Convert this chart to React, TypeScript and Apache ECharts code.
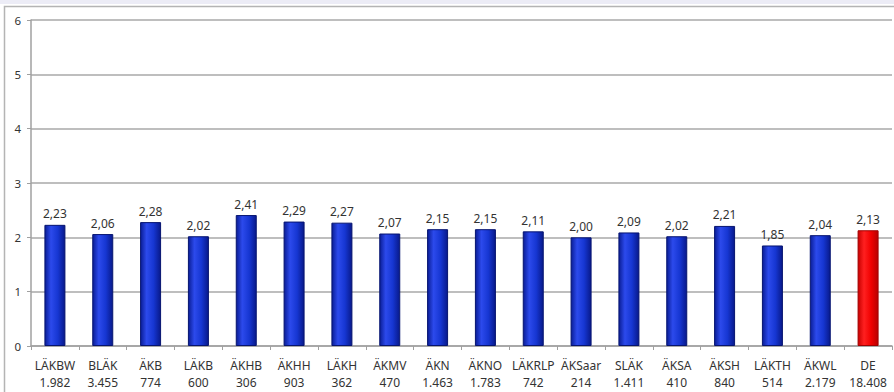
import React, { useEffect, useRef } from "react";
import * as echarts from "echarts";

// Chambers (abbreviation) and member counts shown under each bar
const chambers = [
  "LÄKBW", "BLÄK", "ÄKB", "LÄKB", "ÄKHB", "ÄKHH", "LÄKH", "ÄKMV", "ÄKN",
  "ÄKNO", "LÄKRLP", "ÄKSaar", "SLÄK", "ÄKSA", "ÄKSH", "LÄKTH", "ÄKWL", "DE",
];
const counts = [
  "1.982", "3.455", "774", "600", "306", "903", "362", "470", "1.463",
  "1.783", "742", "214", "1.411", "410", "840", "514", "2.179", "18.408",
];
const values = [
  2.23, 2.06, 2.28, 2.02, 2.41, 2.29, 2.27, 2.07, 2.15,
  2.15, 2.11, 2.0, 2.09, 2.02, 2.21, 1.85, 2.04, 2.13,
];
const yTicks = { min: 0, max: 6, interval: 1 };

const FONT = "Noto Sans";

const blueFill = new echarts.graphic.LinearGradient(0, 0, 1, 0, [
  { offset: 0, color: "#0a1d96" },
  { offset: 0.3, color: "#2c4aec" },
  { offset: 0.65, color: "#1636d2" },
  { offset: 1, color: "#08198a" },
]);
const redFill = new echarts.graphic.LinearGradient(0, 0, 1, 0, [
  { offset: 0, color: "#c80000" },
  { offset: 0.3, color: "#ff2020" },
  { offset: 0.65, color: "#f00000" },
  { offset: 1, color: "#b80000" },
]);

export default function App() {
  const ref = useRef<HTMLDivElement>(null);

  useEffect(() => {
    if (!ref.current) return;
    const chart = echarts.init(ref.current, null, { renderer: "svg" });
    const last = chambers.length - 1;
    chart.setOption({
      animation: false,
      backgroundColor: "#ffffff",
      graphic: [
        { type: "rect", shape: { x: 0, y: 0, width: 894, height: 4 }, style: { fill: "#ececf6" }, silent: true },
        {
          type: "rect",
          shape: { x: 4.5, y: 6.5, width: 960, height: 460 },
          style: { fill: "none", stroke: "#b4b4b4", lineWidth: 1.5 },
          silent: true,
        },
      ],
      grid: { left: 31, right: 2, top: 20, bottom: 46 },
      xAxis: {
        type: "category",
        data: chambers.map((c, i) => `${c}\n${counts[i]}`),
        axisLine: { lineStyle: { color: "#a0a0a0", width: 1.5 } },
        axisTick: { show: true, length: 4, lineStyle: { color: "#a0a0a0" } },
        axisLabel: {
          interval: 0,
          color: "#333333",
          fontFamily: FONT,
          fontSize: 12,
          lineHeight: 17,
          margin: 11,
        },
      },
      yAxis: {
        type: "value",
        min: yTicks.min,
        max: yTicks.max,
        interval: yTicks.interval,
        axisLine: { show: true, lineStyle: { color: "#a0a0a0", width: 1.5 } },
        axisTick: { show: true, length: 4, lineStyle: { color: "#a0a0a0" } },
        axisLabel: { color: "#333333", fontFamily: FONT, fontSize: 11.5, margin: 10 },
        splitLine: { lineStyle: { color: "#a8a8a8", width: 1.5 } },
      },
      series: [
        {
          type: "bar",
          barWidth: 21,
          data: values.map((v, i) => ({
            value: v,
            itemStyle: {
              color: i === last ? redFill : blueFill,
              borderColor: i === last ? "#a00000" : "#061470",
              borderWidth: 1,
            },
          })),
          label: {
            show: true,
            position: "top",
            distance: 5,
            color: "#333333",
            fontFamily: FONT,
            fontSize: 12,
            formatter: (p: any) => Number(p.value).toFixed(2).replace(".", ","),
          },
        },
      ],
    });
    return () => chart.dispose();
  }, []);

  return (
    <div
      ref={ref}
      style={{ position: "fixed", left: 0, top: 0, width: 894, height: 392 }}
    />
  );
}
